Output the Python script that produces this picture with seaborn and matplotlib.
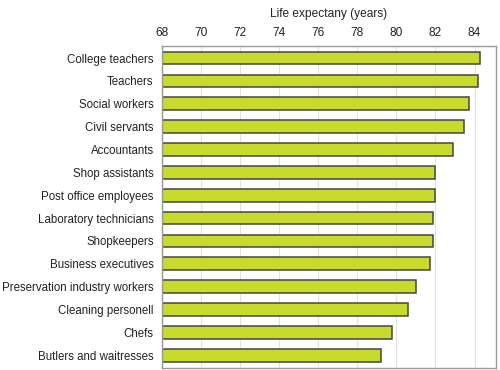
import matplotlib
matplotlib.use('Agg')

import seaborn as sns
import matplotlib.pyplot as plt
import pandas as pd

occupations = ['College teachers', 'Teachers', 'Social workers', 'Civil servants',
               'Accountants', 'Shop assistants', 'Post office employees',
               'Laboratory technicians', 'Shopkeepers', 'Business executives',
               'Preservation industry workers', 'Cleaning personell', 'Chefs',
               'Butlers and waitresses']
life_expectancy = [84.3, 84.2, 83.7, 83.45, 82.9, 82.0, 82.0,
                   81.9, 81.9, 81.7, 81.0, 80.6, 79.8, 79.2]
x_ticks = [68, 70, 72, 74, 76, 78, 80, 82, 84]

df = pd.DataFrame({'occupation': occupations, 'years': life_expectancy})

sns.set_theme(style='white')
plt.rcParams['font.family'] = ['Liberation Sans', 'DejaVu Sans']

fig = plt.figure(figsize=(5, 3.7), dpi=100)
ax = fig.add_axes([0.324, 0.006, 0.668, 0.871])

sns.barplot(data=df, x='years', y='occupation', ax=ax, color='#c8da2b',
            saturation=1, width=0.56, edgecolor='#454545', linewidth=1.1)

ax.set_xlim(68, 85.1)
ax.set_ylim(13.55, -0.55)
ax.set_xticks(x_ticks)
ax.xaxis.tick_top()
ax.xaxis.set_label_position('top')
ax.set_xlabel('Life expectany (years)', fontsize=8.6, color='#222222', labelpad=7)
ax.set_ylabel('')
ax.tick_params(axis='x', length=0, labelsize=8.6, colors='#222222', pad=5)
ax.tick_params(axis='y', length=0, labelsize=8.3, colors='#222222', pad=6)
ax.grid(axis='x', color='#e2e2e2', linewidth=0.8)
ax.set_axisbelow(True)
for s in ax.spines.values():
    s.set_color('#999999')
    s.set_linewidth(1.0)

fig.savefig('out.png', dpi=100)
